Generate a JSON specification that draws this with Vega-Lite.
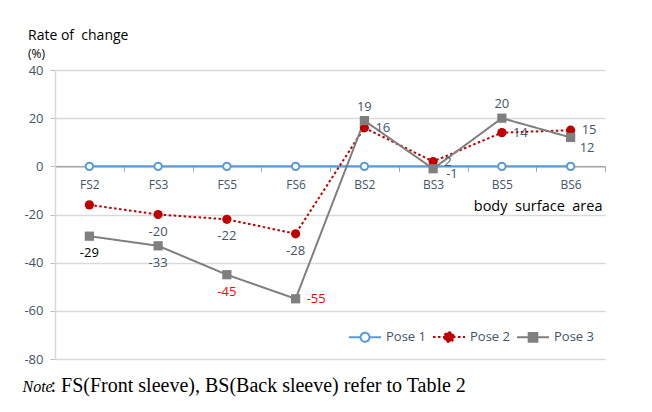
{
  "$schema": "https://vega.github.io/schema/vega-lite/v6.json",
  "width": 550,
  "height": 289,
  "autosize": {"type": "none"},
  "padding": {"top": 70, "left": 55, "right": 47, "bottom": 53},
  "background": "white",
  "config": {"view": {"stroke": null}},
  "title": {
    "text": "Rate of\u00a0 change",
    "subtitle": "(%)",
    "anchor": "start",
    "frame": "group",
    "dx": -27,
    "dy": 6,
    "offset": 10,
    "font": "Open Sans",
    "fontSize": 14,
    "fontWeight": "normal",
    "color": "black",
    "subtitleFont": "Open Sans",
    "subtitleFontSize": 12,
    "subtitleColor": "black",
    "subtitlePadding": 6
  },
  "data": {
    "values": [
      {"cat": "FS2", "series": "Pose 1", "value": 0},
      {"cat": "FS3", "series": "Pose 1", "value": 0},
      {"cat": "FS5", "series": "Pose 1", "value": 0},
      {"cat": "FS6", "series": "Pose 1", "value": 0},
      {"cat": "BS2", "series": "Pose 1", "value": 0},
      {"cat": "BS3", "series": "Pose 1", "value": 0},
      {"cat": "BS5", "series": "Pose 1", "value": 0},
      {"cat": "BS6", "series": "Pose 1", "value": 0},
      {"cat": "FS2", "series": "Pose 2", "value": -16},
      {"cat": "FS3", "series": "Pose 2", "value": -20},
      {"cat": "FS5", "series": "Pose 2", "value": -22},
      {"cat": "FS6", "series": "Pose 2", "value": -28},
      {"cat": "BS2", "series": "Pose 2", "value": 16},
      {"cat": "BS3", "series": "Pose 2", "value": 2},
      {"cat": "BS5", "series": "Pose 2", "value": 14},
      {"cat": "BS6", "series": "Pose 2", "value": 15},
      {"cat": "FS2", "series": "Pose 3", "value": -29},
      {"cat": "FS3", "series": "Pose 3", "value": -33},
      {"cat": "FS5", "series": "Pose 3", "value": -45},
      {"cat": "FS6", "series": "Pose 3", "value": -55},
      {"cat": "BS2", "series": "Pose 3", "value": 19},
      {"cat": "BS3", "series": "Pose 3", "value": -1},
      {"cat": "BS5", "series": "Pose 3", "value": 20},
      {"cat": "BS6", "series": "Pose 3", "value": 12}
    ]
  },
  "resolve": {"axis": {"y": "independent"}},
  "layer": [
    {
      "mark": {"type": "line", "strokeWidth": 2},
      "encoding": {
        "x": {
          "field": "cat", "type": "nominal", "bandPosition": 0.5,
          "sort": ["FS2", "FS3", "FS5", "FS6", "BS2", "BS3", "BS5", "BS6"],
          "scale": {"type": "band", "paddingInner": 0, "paddingOuter": 0},
          "axis": {
            "orient": "bottom",
            "offset": -192.67,
            "tickBand": "extent",
            "domainColor": "#a6a6a6",
            "domainWidth": 1.5,
            "tickColor": "#a6a6a6",
            "tickSize": 5,
            "labelAngle": 0,
            "labelColor": "#44546a",
            "labelFont": "Open Sans",
            "labelFontSize": 12,
            "labelPadding": 8,
            "grid": false,
            "title": "body\u00a0 surface\u00a0 area",
            "titleFont": "Open Sans",
            "titleFontSize": 14.5,
            "titleFontWeight": "normal",
            "titleColor": "black",
            "titleAlign": "right",
            "titleAnchor": "end",
            "titleBaseline": "alphabetic",
            "titleX": 547,
            "titleY": 44
          }
        },
        "y": {
          "field": "value", "type": "quantitative",
          "scale": {"domain": [-80, 40], "nice": false, "zero": false},
          "axis": {
            "orient": "left",
            "values": [-80, -60, -40, -20, 0, 20, 40],
            "labelExpr": "'' + datum.value",
            "grid": true,
            "gridColor": "#d9d9d9",
            "gridWidth": 1.5,
            "domainColor": "#d9d9d9",
            "domainWidth": 1.5,
            "tickColor": "#bfbfbf",
            "tickSize": 5,
            "labelColor": "#44546a",
            "labelFont": "Open Sans",
            "labelFontSize": 13,
            "labelPadding": 7,
            "title": "Note",
            "titleFont": "Liberation Serif",
            "titleFontStyle": "italic",
            "titleFontWeight": "normal",
            "titleFontSize": 16,
            "titleColor": "black",
            "titleAngle": 0,
            "titleAlign": "left",
            "titleBaseline": "alphabetic",
            "titleX": -33,
            "titleY": 321
          }
        },
        "color": {
          "field": "series", "type": "nominal",
          "scale": {"domain": ["Pose 1", "Pose 2", "Pose 3"], "range": ["#5b9bd5", "#c00000", "#7f7f7f"]},
          "legend": {
            "orient": "none",
            "legendX": 293,
            "legendY": 250,
            "direction": "horizontal",
            "title": null,
            "padding": 0,
            "symbolSize": 1024,
            "symbolStrokeWidth": 2,
            "labelFont": "Open Sans",
            "labelFontSize": 13,
            "labelColor": "#44546a",
            "labelOffset": 4,
            "columnPadding": 3,
            "encoding": {
              "symbols": {
                "shape": {
                  "condition": [
                    {"test": "datum.value === 'Pose 1'", "value": "M-1,0L-0.28,0M0.28,0L1,0M-0.28,0A0.28,0.28 0 1,0 0.28,0A0.28,0.28 0 1,0 -0.28,0Z"},
                    {"test": "datum.value === 'Pose 2'", "value": "M-1,0L1,0M-0.3,0A0.3,0.3 0 1,0 0.3,0A0.3,0.3 0 1,0 -0.3,0Z"}
                  ],
                  "value": "M-1,0L1,0M-0.27,-0.27L0.27,-0.27L0.27,0.27L-0.27,0.27Z"
                },
                "fill": {
                  "condition": [
                    {"test": "datum.value === 'Pose 1'", "value": "white"},
                    {"test": "datum.value === 'Pose 2'", "value": "#c00000"}
                  ],
                  "value": "#7f7f7f"
                },
                "strokeDash": {
                  "condition": {"test": "datum.value === 'Pose 2'", "value": [2.5, 2.5]},
                  "value": [1, 0]
                },
                "opacity": {"value": 1}
              }
            }
          }
        },
        "strokeDash": {
          "field": "series", "type": "nominal",
          "scale": {"domain": ["Pose 1", "Pose 2", "Pose 3"], "range": [[1, 0], [2.5, 2.5], [1, 0]]},
          "legend": null
        }
      }
    },
    {
      "transform": [{"filter": "datum.series == 'Pose 1'"}],
      "mark": {"type": "point", "shape": "circle", "filled": false, "fill": "white", "stroke": "#5b9bd5", "opacity": 1, "strokeWidth": 2, "size": 55},
      "encoding": {
        "x": {"field": "cat", "type": "nominal", "bandPosition": 0.5, "sort": ["FS2", "FS3", "FS5", "FS6", "BS2", "BS3", "BS5", "BS6"]},
        "y": {
          "field": "value", "type": "quantitative",
          "axis": {
            "orient": "right",
            "values": [],
            "grid": false,
            "domain": false,
            "ticks": false,
            "labels": false,
            "title": ": FS(Front sleeve), BS(Back sleeve) refer to Table 2",
            "titleFont": "Liberation Serif",
            "titleFontWeight": "normal",
            "titleFontSize": 20,
            "titleColor": "black",
            "titleAngle": 0,
            "titleAlign": "left",
            "titleBaseline": "alphabetic",
            "titleX": -555,
            "titleY": 321
          }
        }
      }
    },
    {
      "transform": [{"filter": "datum.series == 'Pose 2'"}],
      "mark": {"type": "point", "shape": "circle", "filled": true, "color": "#c00000", "opacity": 1, "size": 85},
      "encoding": {
        "x": {"field": "cat", "type": "nominal", "bandPosition": 0.5, "sort": ["FS2", "FS3", "FS5", "FS6", "BS2", "BS3", "BS5", "BS6"]},
        "y": {"field": "value", "type": "quantitative", "axis": null}
      }
    },
    {
      "transform": [{"filter": "datum.series == 'Pose 3'"}],
      "mark": {"type": "point", "shape": "square", "filled": true, "color": "#7f7f7f", "opacity": 1, "size": 85},
      "encoding": {
        "x": {"field": "cat", "type": "nominal", "bandPosition": 0.5, "sort": ["FS2", "FS3", "FS5", "FS6", "BS2", "BS3", "BS5", "BS6"]},
        "y": {"field": "value", "type": "quantitative", "axis": null}
      }
    },
    {
      "transform": [{"filter": "(datum.series == 'Pose 2' && indexof(['FS3','FS5','FS6'], datum.cat) >= 0) || (datum.series == 'Pose 3' && indexof(['FS2','FS3','FS5'], datum.cat) >= 0)"}],
      "mark": {"type": "text", "font": "Open Sans", "fontSize": 13, "align": "center", "baseline": "middle", "dy": 17},
      "encoding": {
        "x": {"field": "cat", "type": "nominal", "bandPosition": 0.5, "sort": ["FS2", "FS3", "FS5", "FS6", "BS2", "BS3", "BS5", "BS6"]},
        "y": {"field": "value", "type": "quantitative", "axis": null},
        "text": {"field": "value", "type": "nominal"},
        "color": {
          "condition": [
            {"test": "datum.series == 'Pose 3' && datum.cat == 'FS2'", "value": "black"},
            {"test": "datum.series == 'Pose 3' && datum.cat == 'FS5'", "value": "#ff0000"}
          ],
          "value": "#44546a"
        }
      }
    },
    {
      "transform": [{"filter": "(datum.series == 'Pose 3' && datum.cat == 'FS6') || (datum.series == 'Pose 2' && indexof(['BS2','BS3','BS5','BS6'], datum.cat) >= 0)"}],
      "mark": {"type": "text", "font": "Open Sans", "fontSize": 13, "align": "left", "baseline": "middle", "dx": 11},
      "encoding": {
        "x": {"field": "cat", "type": "nominal", "bandPosition": 0.5, "sort": ["FS2", "FS3", "FS5", "FS6", "BS2", "BS3", "BS5", "BS6"]},
        "y": {"field": "value", "type": "quantitative", "axis": null},
        "text": {"field": "value", "type": "nominal"},
        "color": {
          "condition": {"test": "datum.series == 'Pose 3'", "value": "#ff0000"},
          "value": "#44546a"
        }
      }
    },
    {
      "transform": [{"filter": "datum.series == 'Pose 3' && (datum.cat == 'BS2' || datum.cat == 'BS5')"}],
      "mark": {"type": "text", "font": "Open Sans", "fontSize": 13, "align": "center", "baseline": "middle", "dy": -14, "color": "#44546a"},
      "encoding": {
        "x": {"field": "cat", "type": "nominal", "bandPosition": 0.5, "sort": ["FS2", "FS3", "FS5", "FS6", "BS2", "BS3", "BS5", "BS6"]},
        "y": {"field": "value", "type": "quantitative", "axis": null},
        "text": {"field": "value", "type": "nominal"}
      }
    },
    {
      "transform": [{"filter": "datum.series == 'Pose 3' && datum.cat == 'BS3'"}],
      "mark": {"type": "text", "font": "Open Sans", "fontSize": 13, "align": "left", "baseline": "middle", "dx": 13, "dy": 5, "color": "#44546a"},
      "encoding": {
        "x": {"field": "cat", "type": "nominal", "bandPosition": 0.5, "sort": ["FS2", "FS3", "FS5", "FS6", "BS2", "BS3", "BS5", "BS6"]},
        "y": {"field": "value", "type": "quantitative", "axis": null},
        "text": {"field": "value", "type": "nominal"}
      }
    },
    {
      "transform": [{"filter": "datum.series == 'Pose 3' && datum.cat == 'BS6'"}],
      "mark": {"type": "text", "font": "Open Sans", "fontSize": 13, "align": "left", "baseline": "middle", "dx": 9, "dy": 11, "color": "#44546a"},
      "encoding": {
        "x": {"field": "cat", "type": "nominal", "bandPosition": 0.5, "sort": ["FS2", "FS3", "FS5", "FS6", "BS2", "BS3", "BS5", "BS6"]},
        "y": {"field": "value", "type": "quantitative", "axis": null},
        "text": {"field": "value", "type": "nominal"}
      }
    }
  ]
}
